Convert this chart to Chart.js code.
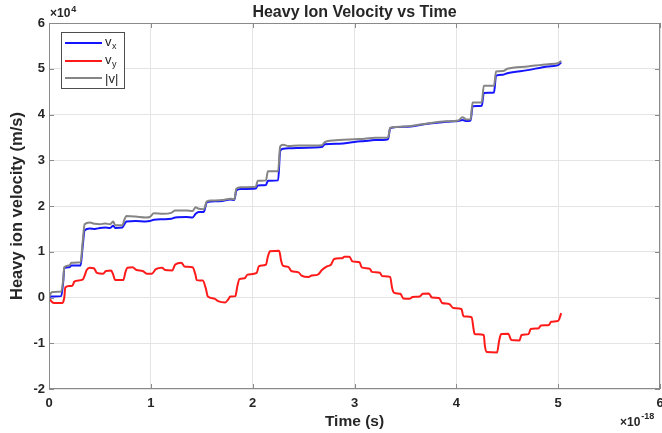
<!DOCTYPE html>
<html>
<head>
<meta charset="utf-8">
<script src="https://cdn.jsdelivr.net/npm/chart.js@4.4.1/dist/chart.umd.min.js"></script>
<style>
    html, body { margin: 0; padding: 0; background: #fff; }
</style>
</head>
<body>
<canvas id="velocity-chart" width="662" height="433"></canvas>
<script>
// time in units of 1e-18 s, velocity in units of 1e4 m/s
const timeXY = [0.00, 0.02, 0.04, 0.12, 0.14, 0.15, 0.20, 0.22, 0.31, 0.33,
    0.35, 0.40, 0.45, 0.50, 0.55, 0.60, 0.63, 0.65, 0.72, 0.74,
    0.76, 0.85, 0.95, 0.99, 1.03, 1.12, 1.20, 1.24, 1.35, 1.41,
    1.44, 1.47, 1.52, 1.55, 1.60, 1.70, 1.78, 1.82, 1.84, 1.88,
    2.03, 2.05, 2.13, 2.15, 2.25, 2.27, 2.30, 2.35, 2.45, 2.60,
    2.68, 2.71, 2.85, 3.00, 3.10, 3.20, 3.33, 3.35, 3.50, 3.70,
    3.90, 4.02, 4.06, 4.10, 4.14, 4.16, 4.25, 4.27, 4.37, 4.39,
    4.46, 4.50, 4.70, 4.90, 5.00, 5.03];

const vx = [0, 0.02, 0.02, 0.03, 0.35, 0.64, 0.66, 0.70, 0.70, 1.10,
    1.47, 1.51, 1.50, 1.52, 1.53, 1.52, 1.57, 1.52, 1.53, 1.60,
    1.66, 1.67, 1.66, 1.67, 1.70, 1.71, 1.72, 1.75, 1.76, 1.75,
    1.83, 1.87, 1.87, 2.08, 2.10, 2.11, 2.14, 2.13, 2.34, 2.37,
    2.38, 2.45, 2.46, 2.55, 2.56, 3.20, 3.25, 3.26, 3.27, 3.28,
    3.29, 3.35, 3.36, 3.40, 3.42, 3.44, 3.46, 3.70, 3.73, 3.79,
    3.84, 3.86, 3.88, 3.86, 3.87, 4.18, 4.19, 4.47, 4.48, 4.85,
    4.87, 4.90, 4.97, 5.05, 5.08, 5.14];

const vMag = [0, 0.10, 0.12, 0.13, 0.40, 0.66, 0.70, 0.76, 0.77, 1.20,
    1.60, 1.64, 1.61, 1.60, 1.62, 1.60, 1.66, 1.58, 1.58, 1.70,
    1.78, 1.77, 1.75, 1.76, 1.84, 1.83, 1.85, 1.90, 1.90, 1.89,
    1.97, 1.94, 1.93, 2.10, 2.12, 2.13, 2.16, 2.15, 2.38, 2.41,
    2.42, 2.55, 2.56, 2.76, 2.76, 3.30, 3.34, 3.31, 3.32, 3.32,
    3.33, 3.40, 3.44, 3.46, 3.47, 3.49, 3.50, 3.71, 3.74, 3.80,
    3.85, 3.87, 3.94, 3.89, 3.90, 4.26, 4.27, 4.63, 4.63, 4.94,
    4.95, 5.00, 5.05, 5.10, 5.12, 5.17];

const timeY = [0.00, 0.03, 0.05, 0.13, 0.15, 0.16, 0.20, 0.23, 0.25, 0.33,
    0.35, 0.37, 0.40, 0.44, 0.47, 0.53, 0.56, 0.61, 0.63, 0.65,
    0.73, 0.75, 0.77, 0.82, 0.86, 0.92, 0.96, 1.01, 1.05, 1.11,
    1.14, 1.21, 1.24, 1.30, 1.33, 1.41, 1.44, 1.45, 1.51, 1.54,
    1.56, 1.62, 1.66, 1.73, 1.76, 1.78, 1.83, 1.85, 1.87, 1.92,
    1.95, 2.04, 2.06, 2.13, 2.15, 2.17, 2.26, 2.28, 2.30, 2.35,
    2.38, 2.45, 2.48, 2.55, 2.58, 2.64, 2.68, 2.73, 2.77, 2.80,
    2.88, 2.90, 2.95, 2.98, 3.05, 3.07, 3.15, 3.17, 3.25, 3.27,
    3.35, 3.37, 3.39, 3.45, 3.48, 3.54, 3.57, 3.64, 3.67, 3.73,
    3.76, 3.83, 3.86, 3.93, 3.97, 4.05, 4.07, 4.15, 4.17, 4.18,
    4.27, 4.28, 4.30, 4.40, 4.42, 4.44, 4.51, 4.54, 4.62, 4.64,
    4.71, 4.73, 4.81, 4.83, 4.91, 4.93, 5.00, 5.03];

const vy = [0, -0.10, -0.12, -0.12, 0.00, 0.22, 0.25, 0.26, 0.35, 0.39,
    0.48, 0.60, 0.65, 0.64, 0.54, 0.52, 0.58, 0.59, 0.50, 0.38,
    0.38, 0.55, 0.65, 0.66, 0.60, 0.58, 0.52, 0.52, 0.62, 0.65,
    0.60, 0.59, 0.72, 0.76, 0.68, 0.66, 0.48, 0.38, 0.37, 0.20,
    0.02, -0.02, -0.08, -0.11, -0.04, 0.02, 0.03, 0.25, 0.40, 0.42,
    0.50, 0.54, 0.68, 0.72, 0.90, 1.01, 1.02, 0.80, 0.69, 0.67,
    0.58, 0.55, 0.48, 0.45, 0.48, 0.50, 0.60, 0.68, 0.72, 0.84,
    0.86, 0.89, 0.89, 0.79, 0.77, 0.66, 0.63, 0.56, 0.54, 0.47,
    0.45, 0.20, 0.10, 0.08, -0.02, -0.03, 0.01, 0.02, 0.08, 0.09,
    0.00, -0.01, -0.12, -0.14, -0.23, -0.25, -0.41, -0.43, -0.70, -0.80,
    -0.82, -1.05, -1.19, -1.20, -0.95, -0.80, -0.79, -0.93, -0.94, -0.82,
    -0.80, -0.69, -0.67, -0.61, -0.60, -0.53, -0.51, -0.34];

const seriesNames = ["x", "y", "|v|"];
const seriesColors = ["#1414ff", "#ff1a1a", "#858585"];

const FONT = "'Liberation Sans', Arial, Helvetica, sans-serif";
const TEXT = "#262626";
const BOX = "#8a8a8a";

const toPoints = function(times, values) {
    return times.map((t, i) => {
        return { x : t, y : values[i] };
    });
};

const lineStyle = function(color) {
    return {
        borderColor : color,
        backgroundColor : color,
        borderWidth : 2,
        pointRadius : 0,
        fill : false,
        cubicInterpolationMode : "monotone"
    };
};

/* box, inner ticks, exponents and legend */
const axesExtras = {
    id : "axesExtras",
    afterDraw : function(chart) {
        const ctx = chart.ctx;
        const area = chart.chartArea;
        const xs = chart.scales.x;
        const ys = chart.scales.y;

        ctx.save();
        ctx.strokeStyle = BOX;
        ctx.lineWidth = 1;
        ctx.strokeRect(area.left + 0.5, area.top + 0.5, area.right - area.left - 1, area.bottom - area.top - 1);

        ctx.beginPath();
        xs.ticks.forEach((t) => {
            const px = Math.round(xs.getPixelForValue(t.value)) + 0.5;
            ctx.moveTo(px, area.bottom);
            ctx.lineTo(px, area.bottom - 5);
            ctx.moveTo(px, area.top);
            ctx.lineTo(px, area.top + 5);
        });
        ys.ticks.forEach((t) => {
            const py = Math.round(ys.getPixelForValue(t.value)) + 0.5;
            ctx.moveTo(area.left, py);
            ctx.lineTo(area.left + 5, py);
            ctx.moveTo(area.right, py);
            ctx.lineTo(area.right - 5, py);
        });
        ctx.stroke();

        //exponent labels
        ctx.fillStyle = TEXT;
        ctx.textBaseline = "alphabetic";
        ctx.textAlign = "left";
        ctx.font = "bold 12px " + FONT;
        ctx.fillText("×10", area.left + 1, 17);
        let w = ctx.measureText("×10").width;
        ctx.font = "bold 9px " + FONT;
        ctx.fillText("4", area.left + 1 + w + 1, 12);

        ctx.font = "bold 12px " + FONT;
        ctx.fillText("×10", 620, 426);
        w = ctx.measureText("×10").width;
        ctx.font = "bold 9px " + FONT;
        ctx.fillText("-18", 620 + w + 1, 419);

        //legend
        const lx = 61, ly = 32, lw = 63, lh = 56;
        ctx.fillStyle = "#ffffff";
        ctx.fillRect(lx, ly, lw, lh);
        ctx.strokeStyle = "#4d4d4d";
        ctx.strokeRect(lx + 0.5, ly + 0.5, lw, lh);

        const rows = [43, 61, 78];
        rows.forEach((y, i) => {
            ctx.strokeStyle = seriesColors[i];
            ctx.lineWidth = 2;
            ctx.beginPath();
            ctx.moveTo(65, y);
            ctx.lineTo(102, y);
            ctx.stroke();

            ctx.fillStyle = TEXT;
            ctx.font = "13px " + FONT;
            if (i < 2) {
                ctx.fillText("v", 105, y + 3);
                ctx.font = "9px " + FONT;
                ctx.fillText(seriesNames[i], 112, y + 6);
            } else {
                ctx.fillText(seriesNames[i], 105, y + 5);
            }
        });
        ctx.restore();
    }
};

const ctx = document.getElementById("velocity-chart");
const chart = new Chart(ctx.getContext("2d"), {
    type : "line",
    data : {
        datasets : [
            Object.assign({ label : "vx", data : toPoints(timeXY, vx), order : 2 }, lineStyle(seriesColors[0])),
            Object.assign({ label : "vy", data : toPoints(timeY, vy), order : 1 }, lineStyle(seriesColors[1])),
            Object.assign({ label : "|v|", data : toPoints(timeXY, vMag), order : 0 }, lineStyle(seriesColors[2]))
        ]
    },
    options : {
        responsive : false,
        devicePixelRatio : 1,
        animation : false,
        layout : {
            padding : { top : 0, right : 2, bottom : 0, left : 0 }
        },
        plugins : {
            legend : { display : false },
            tooltip : { enabled : false },
            title : {
                display : true,
                text : "Heavy Ion Velocity vs Time",
                fullSize : false,
                color : TEXT,
                font : { family : FONT, size : 16, weight : "bold" },
                padding : { top : 3, bottom : 0.8 }
            }
        },
        scales : {
            x : {
                type : "linear",
                min : 0,
                max : 6,
                ticks : {
                    stepSize : 1,
                    padding : 7,
                    color : TEXT,
                    maxRotation : 0,
                    font : { family : FONT, size : 13, weight : "bold" }
                },
                grid : { color : "#e4e4e4", drawTicks : false },
                border : { display : false },
                title : {
                    display : true,
                    text : "Time (s)",
                    color : TEXT,
                    font : { family : FONT, size : 15.5, weight : "bold" },
                    padding : { top : 0, bottom : 1.5 }
                },
                afterFit : function(s) {
                    s.height = 44;
                    s.paddingLeft = 0;
                    s.paddingRight = 0;
                }
            },
            y : {
                min : -2,
                max : 6,
                ticks : {
                    stepSize : 1,
                    padding : 4,
                    color : TEXT,
                    font : { family : FONT, size : 13, weight : "bold" }
                },
                grid : { color : "#e4e4e4", drawTicks : false },
                border : { display : false },
                title : {
                    display : true,
                    text : "Heavy ion velocity (m/s)",
                    color : TEXT,
                    font : { family : FONT, size : 16.5, weight : "bold" },
                    padding : { top : 8, bottom : 0 }
                },
                afterFit : function(s) {
                    s.width = 49;
                    s.paddingTop = 0;
                    s.paddingBottom = 0;
                }
            }
        }
    },
    plugins : [axesExtras]
});
</script>
</body>
</html>
